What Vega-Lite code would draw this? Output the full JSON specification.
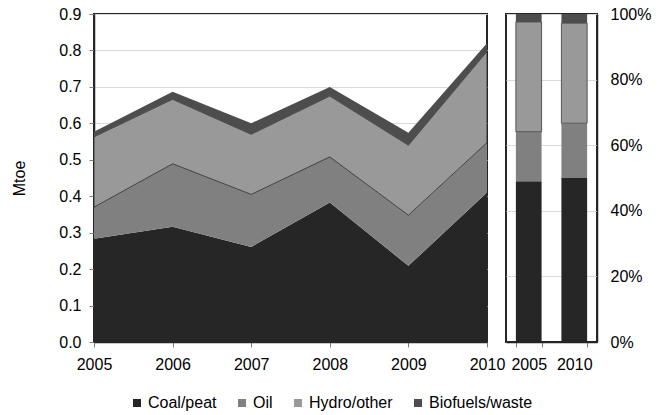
{
  "$schema": "https://vega.github.io/schema/vega-lite/v6.json",
  "background": "white",
  "padding": {"left": 10, "top": 5, "right": 5, "bottom": 5},
  "config": {
    "font": "Liberation Sans",
    "view": {"stroke": "#262626", "strokeWidth": 2},
    "axis": {
      "labelFont": "Liberation Sans",
      "labelFontSize": 16,
      "labelColor": "#000000",
      "titleFont": "Liberation Sans",
      "titleFontSize": 16,
      "titleFontWeight": "normal",
      "titleColor": "#000000",
      "domainColor": "#262626",
      "domainWidth": 1.5,
      "tickColor": "#808080",
      "gridColor": "#d9d9d9",
      "gridWidth": 1
    },
    "legend": {
      "labelFont": "Liberation Sans",
      "labelFontSize": 16,
      "labelColor": "#000000",
      "layout": {"bottom": {"anchor": "middle"}}
    }
  },
  "data": {
    "values": [
      {"year": 2005, "source": "Coal/peat", "k": 1, "value": 0.283},
      {"year": 2006, "source": "Coal/peat", "k": 1, "value": 0.316},
      {"year": 2007, "source": "Coal/peat", "k": 1, "value": 0.261},
      {"year": 2008, "source": "Coal/peat", "k": 1, "value": 0.383},
      {"year": 2009, "source": "Coal/peat", "k": 1, "value": 0.209},
      {"year": 2010, "source": "Coal/peat", "k": 1, "value": 0.410},
      {"year": 2005, "source": "Oil", "k": 2, "value": 0.087},
      {"year": 2006, "source": "Oil", "k": 2, "value": 0.173},
      {"year": 2007, "source": "Oil", "k": 2, "value": 0.144},
      {"year": 2008, "source": "Oil", "k": 2, "value": 0.125},
      {"year": 2009, "source": "Oil", "k": 2, "value": 0.139},
      {"year": 2010, "source": "Oil", "k": 2, "value": 0.137},
      {"year": 2005, "source": "Hydro/other", "k": 3, "value": 0.193},
      {"year": 2006, "source": "Hydro/other", "k": 3, "value": 0.177},
      {"year": 2007, "source": "Hydro/other", "k": 3, "value": 0.165},
      {"year": 2008, "source": "Hydro/other", "k": 3, "value": 0.167},
      {"year": 2009, "source": "Hydro/other", "k": 3, "value": 0.192},
      {"year": 2010, "source": "Hydro/other", "k": 3, "value": 0.250},
      {"year": 2005, "source": "Biofuels/waste", "k": 4, "value": 0.014},
      {"year": 2006, "source": "Biofuels/waste", "k": 4, "value": 0.021},
      {"year": 2007, "source": "Biofuels/waste", "k": 4, "value": 0.030},
      {"year": 2008, "source": "Biofuels/waste", "k": 4, "value": 0.025},
      {"year": 2009, "source": "Biofuels/waste", "k": 4, "value": 0.034},
      {"year": 2010, "source": "Biofuels/waste", "k": 4, "value": 0.023}
    ]
  },
  "bounds": "flush",
  "spacing": 19,
  "hconcat": [
    {
      "width": 393,
      "height": 328,
      "mark": {"type": "area", "strokeWidth": 0.8},
      "encoding": {
        "x": {
          "field": "year", "type": "ordinal",
          "scale": {"type": "point", "padding": 0},
          "axis": {"title": null, "labelAngle": 0, "grid": false, "tickSize": 5, "labelPadding": 9}
        },
        "y": {
          "field": "value", "type": "quantitative", "stack": "zero",
          "scale": {"domain": [0, 0.9], "nice": false},
          "axis": {
            "title": "Mtoe", "format": ".1f",
            "values": [0, 0.1, 0.2, 0.3, 0.4, 0.5, 0.6, 0.7, 0.8, 0.9],
            "grid": true, "tickSize": 5, "labelPadding": 8, "titlePadding": 31
          }
        },
        "color": {
          "field": "source", "type": "nominal",
          "scale": {
            "domain": ["Coal/peat", "Oil", "Hydro/other", "Biofuels/waste"],
            "range": ["#262626", "#808080", "#999999", "#4d4d4d"]
          },
          "legend": {
            "orient": "bottom", "direction": "horizontal", "title": null,
            "symbolType": "square", "symbolSize": 64,
            "symbolStrokeColor": "#808080", "symbolStrokeWidth": 0.5,
            "columnPadding": 17, "labelOffset": 3, "offset": 22
          }
        },
        "stroke": {
          "condition": {"test": "datum.source == 'Hydro/other'", "value": "#262626"},
          "value": null
        },
        "order": {"field": "k", "type": "quantitative"}
      }
    },
    {
      "width": 91,
      "height": 328,
      "transform": [{"filter": "datum.year == 2005 || datum.year == 2010"}],
      "mark": {"type": "bar", "strokeWidth": 1},
      "encoding": {
        "x": {
          "field": "year", "type": "ordinal",
          "scale": {"paddingInner": 0.435, "paddingOuter": 0.217},
          "axis": {"title": null, "labelAngle": 0, "grid": false, "tickSize": 5, "tickBand": "extent", "labelPadding": 9}
        },
        "y": {
          "field": "value", "type": "quantitative", "stack": "normalize",
          "axis": {
            "orient": "right", "title": null, "format": ".0%",
            "values": [0, 0.2, 0.4, 0.6, 0.8, 1],
            "grid": true, "ticks": false, "labelPadding": 13
          }
        },
        "color": {"field": "source", "type": "nominal"},
        "stroke": {
          "condition": {"test": "datum.source == 'Hydro/other'", "value": "#555555"},
          "value": null
        },
        "order": {"field": "k", "type": "quantitative"}
      }
    }
  ]
}
